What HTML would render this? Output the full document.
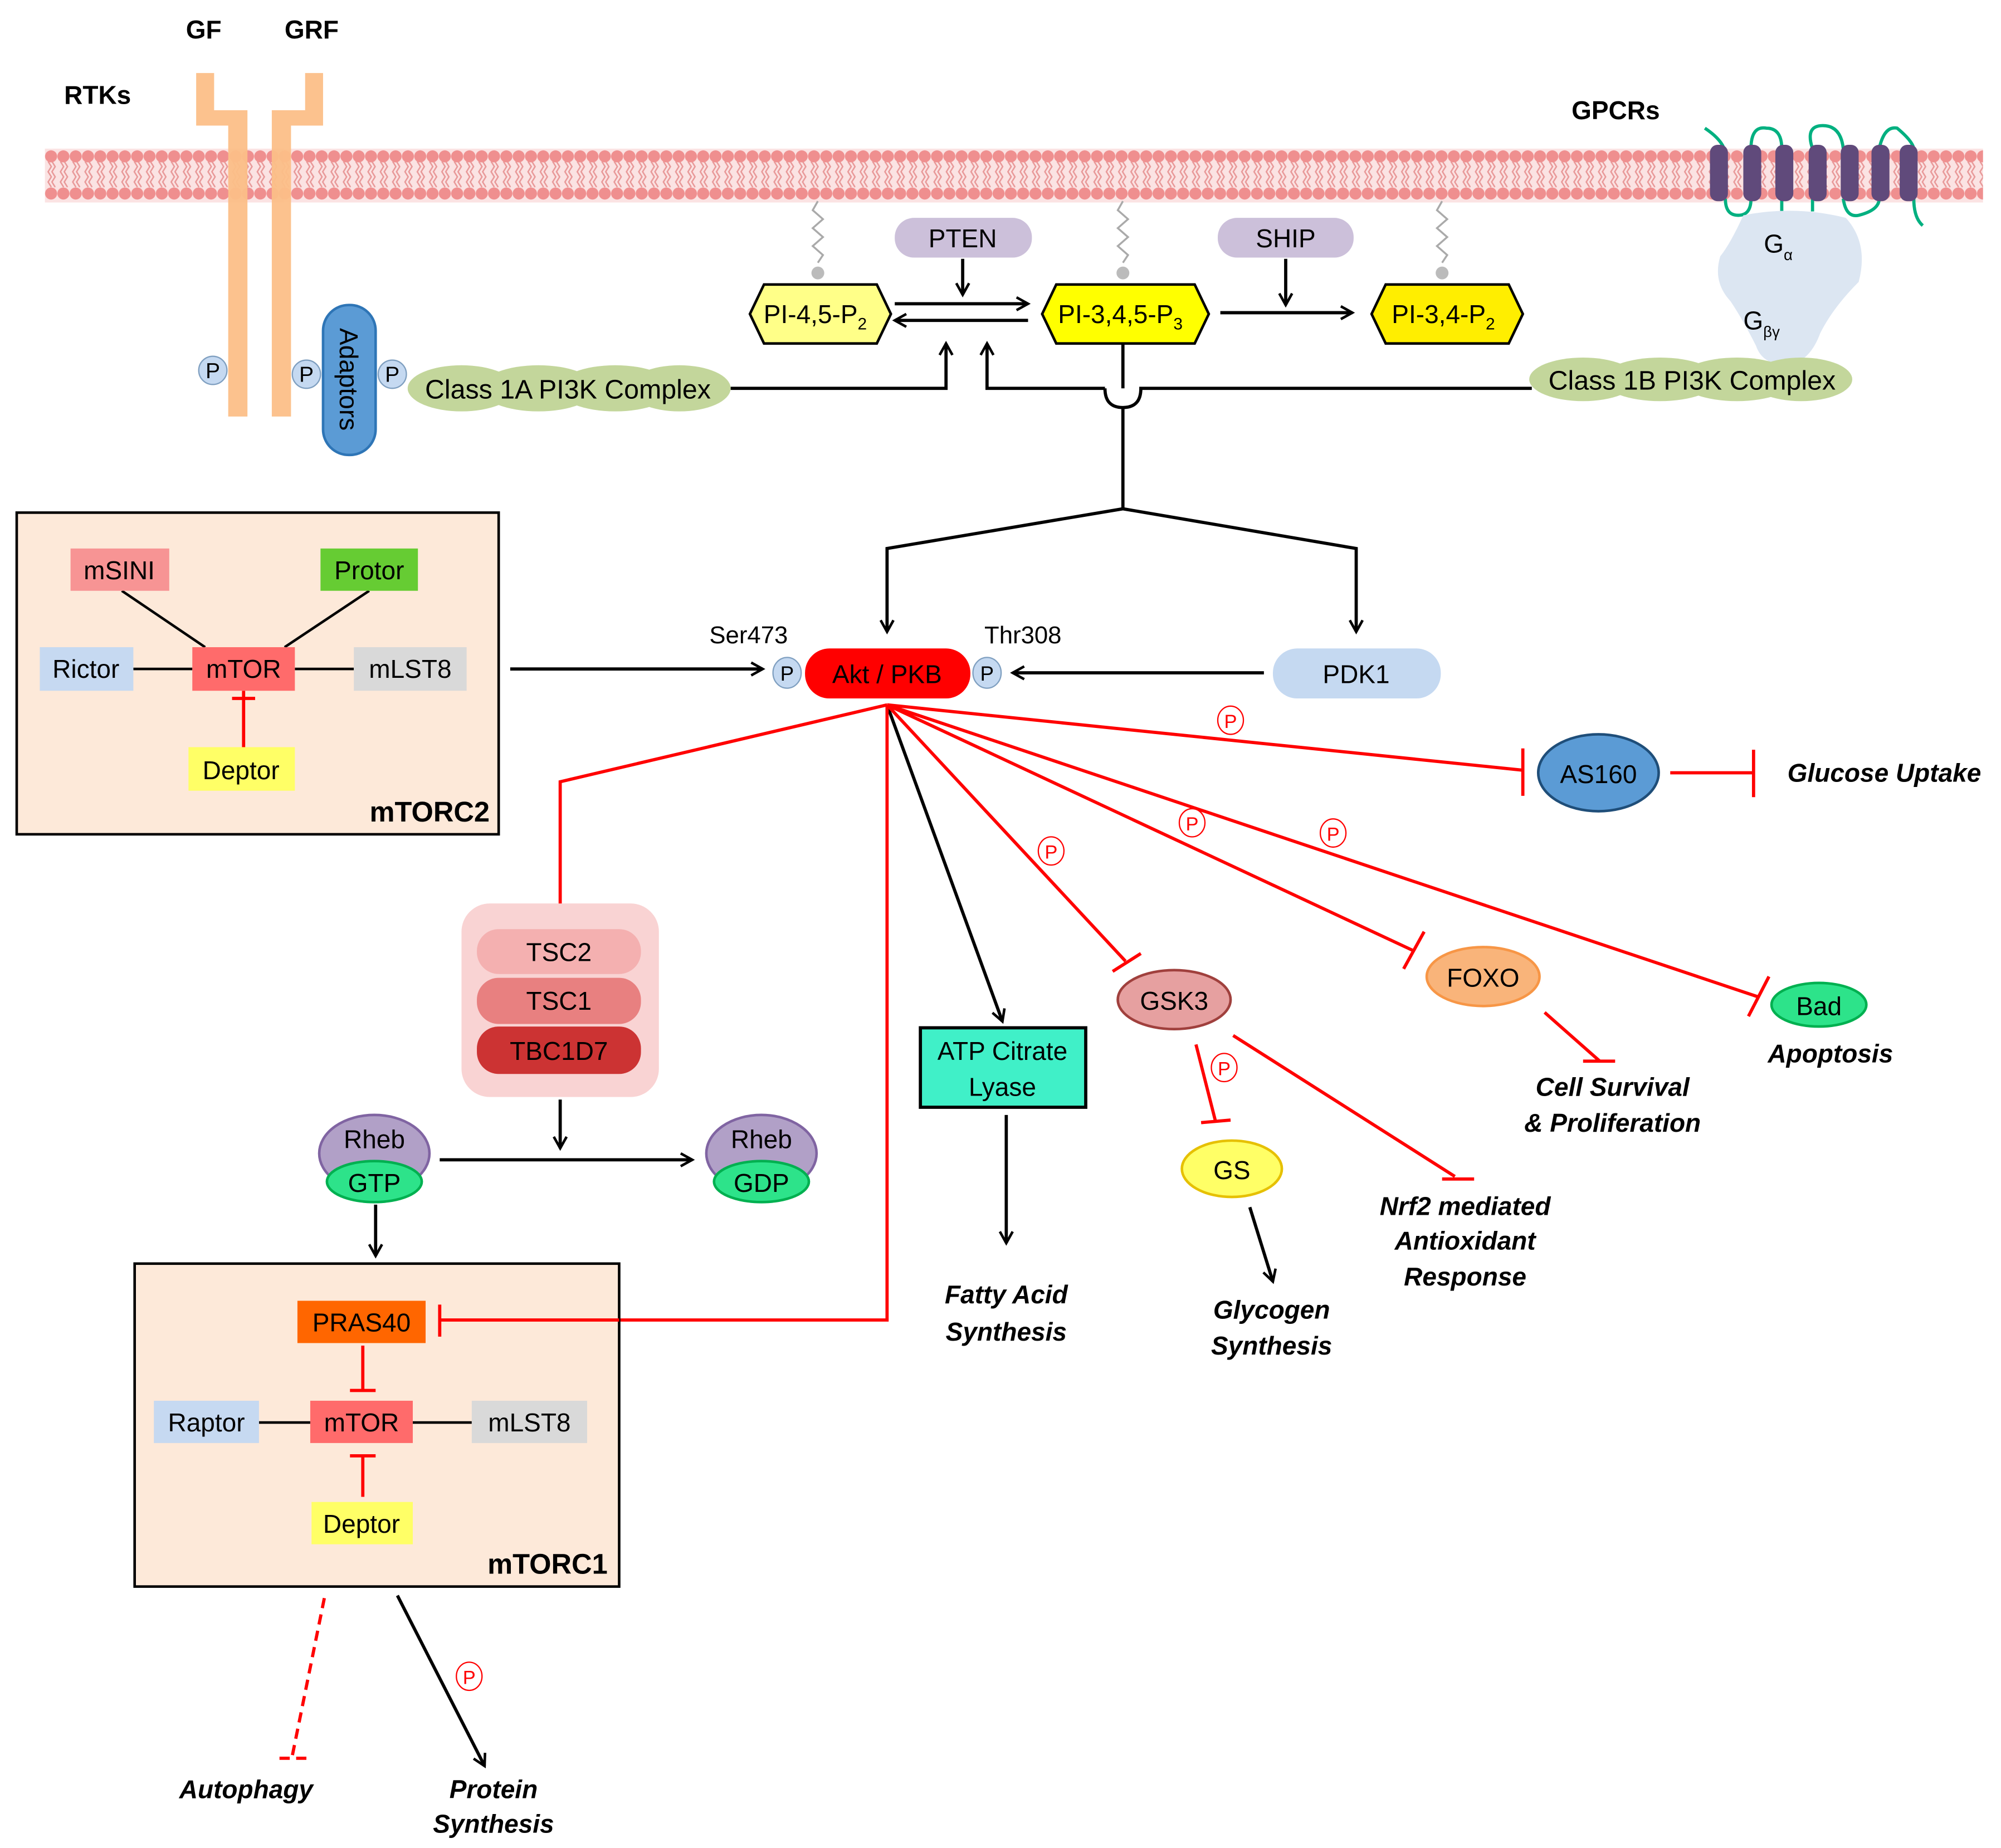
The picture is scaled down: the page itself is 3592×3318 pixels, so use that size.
<!DOCTYPE html>
<html><head><meta charset="utf-8"><style>
html,body{margin:0;padding:0;background:#fff;}
svg{display:block;}
text{font-family:"Liberation Sans",Arial,sans-serif;}
</style></head><body>
<svg width="3592" height="3318" viewBox="0 0 1561 1442" xmlns="http://www.w3.org/2000/svg">
<defs>
<pattern id="mem" x="35" y="116" width="9.6" height="42" patternUnits="userSpaceOnUse">
<path d="M2.5 10 L5 14 L2.5 18 L5 22 L2.5 26 L5 30 M5.5 10 L8 14 L5.5 18 L8 22 L5.5 26 L8 30" stroke="#e89898" stroke-width="1.1" fill="none"/>
<circle cx="4.8" cy="6" r="4.7" fill="#ef8f8f"/>
<circle cx="4.8" cy="35" r="4.7" fill="#ef8f8f"/>
</pattern>
<marker id="ah" markerWidth="12" markerHeight="12" refX="10" refY="6" orient="auto" markerUnits="userSpaceOnUse">
<path d="M1 1 L10 6 L1 11" fill="none" stroke="#000" stroke-width="2"/>
</marker>
</defs>
<rect width="1561" height="1442" fill="#fff"/>
<g font-weight="bold" font-size="20">
<text x="145" y="30">GF</text><text x="222" y="30">GRF</text>
<text x="50" y="81">RTKs</text><text x="1226" y="93">GPCRs</text>
</g>
<rect x="35" y="116" width="1512" height="42" fill="#fbe3e3"/>
<rect x="35" y="116" width="1512" height="42" fill="url(#mem)"/>
<g fill="#fcbf88" opacity="0.95">
<path d="M153 57 H167 V86 H193 V325 H178 V98 H153 Z"/>
<path d="M238 57 H252 V98 H227 V325 H212 V86 H238 Z"/>
</g>
<g fill="#c5d9f1" stroke="#7f9fc0" stroke-width="1">
<circle cx="166" cy="289" r="11"/><circle cx="239" cy="292" r="11"/><circle cx="306" cy="292" r="11"/>
</g>
<g font-size="17" text-anchor="middle"><text x="166" y="295">P</text><text x="239" y="298">P</text><text x="306" y="298">P</text></g>
<rect x="252" y="238" width="41" height="117" rx="20" fill="#5b9bd5" stroke="#2e75b6" stroke-width="2"/>
<text x="0" y="0" font-size="20" text-anchor="middle" transform="translate(265,296) rotate(90)">Adaptors</text>
<g fill="#c3d69b"><ellipse cx="360" cy="303" rx="42" ry="18"/><ellipse cx="420" cy="303" rx="45" ry="18"/><ellipse cx="480" cy="303" rx="45" ry="18"/><ellipse cx="530" cy="303" rx="40" ry="18"/></g>
<text x="443" y="311" font-size="21" text-anchor="middle">Class 1A PI3K Complex</text>
<g fill="none" stroke="#00b080" stroke-width="2.5">
<path d="M1330 100 Q1345 110 1346 120"/>
<path d="M1366 116 Q1366 98 1378 100 Q1390 100 1390 116"/>
<path d="M1414 116 Q1408 98 1422 98 Q1436 98 1438 116"/>
<path d="M1466 116 Q1470 98 1480 100 Q1492 110 1493 116"/>
<path d="M1346 155 Q1346 168 1356 168 Q1366 168 1366 155"/>
<path d="M1390 155 V165 M1414 155 V165"/>
<path d="M1438 155 Q1440 170 1450 168 Q1466 164 1466 155"/>
<path d="M1493 155 Q1493 170 1500 176"/>
</g>
<g fill="#604a7b">
<rect x="1334" y="113" width="14" height="44" rx="6"/><rect x="1360" y="113" width="14" height="44" rx="6"/><rect x="1385" y="113" width="14" height="44" rx="6"/><rect x="1411" y="113" width="14" height="44" rx="6"/><rect x="1436" y="113" width="14" height="44" rx="6"/><rect x="1460" y="113" width="14" height="44" rx="6"/><rect x="1482" y="113" width="14" height="44" rx="6"/>
</g>
<path d="M1360 168 Q1400 160 1440 170 Q1458 190 1450 220 Q1430 240 1420 260 Q1412 282 1395 285 Q1375 285 1370 270 Q1360 250 1350 235 Q1336 220 1342 200 Q1350 190 1360 168 Z" fill="#dce6f2"/>
<text x="1376" y="197" font-size="20">G<tspan font-size="12" dy="6">α</tspan></text>
<text x="1360" y="257" font-size="20">G<tspan font-size="12" dy="6">βγ</tspan></text>
<g fill="#c3d69b"><ellipse cx="1235" cy="296" rx="42" ry="17"/><ellipse cx="1295" cy="296" rx="45" ry="17"/><ellipse cx="1355" cy="296" rx="45" ry="17"/><ellipse cx="1405" cy="296" rx="40" ry="17"/></g>
<text x="1320" y="304" font-size="21" text-anchor="middle">Class 1B PI3K Complex</text>
<g stroke="#aaa" stroke-width="1.5" fill="none">
<path d="M638 157 l-4 7 l8 7 l-8 7 l8 7 l-8 7 l8 7 l-4 6"/>
<path d="M876 157 l-4 7 l8 7 l-8 7 l8 7 l-8 7 l8 7 l-4 6"/>
<path d="M1125 157 l-4 7 l8 7 l-8 7 l8 7 l-8 7 l8 7 l-4 6"/>
</g>
<g fill="#bbb"><circle cx="638" cy="213" r="5"/><circle cx="876" cy="213" r="5"/><circle cx="1125" cy="213" r="5"/></g>
<g stroke="#000" stroke-width="2">
<path d="M596 222 H684 L695 245 L684 268 H596 L585 245 Z" fill="#ffff88"/>
<path d="M824 222 H932 L943 245 L932 268 H824 L813 245 Z" fill="#ffff00"/>
<path d="M1081 222 H1177 L1188 245 L1177 268 H1081 L1070 245 Z" fill="#ffee00"/>
</g>
<g font-size="20" text-anchor="middle">
<text x="636" y="252">PI-4,5-P<tspan font-size="13" dy="5">2</tspan></text>
<text x="874" y="252">PI-3,4,5-P<tspan font-size="13" dy="5">3</tspan></text>
<text x="1126" y="252">PI-3,4-P<tspan font-size="13" dy="5">2</tspan></text>
</g>
<g fill="#ccc0da"><rect x="698" y="170" width="107" height="31" rx="15"/><rect x="950" y="170" width="106" height="31" rx="15"/></g>
<g font-size="20" text-anchor="middle"><text x="751" y="193">PTEN</text><text x="1003" y="193">SHIP</text></g>
<g stroke="#000" stroke-width="2.5" fill="none" marker-end="url(#ah)">
<path d="M751 202 V230"/>
<path d="M698 237 H802"/>
<path d="M802 250 H698"/>
<path d="M1003 202 V238"/>
<path d="M952 244 H1055"/>
<path d="M570 303 H738 V268"/>
<path d="M862 303 H770 V268"/>
<path d="M876 397 L692 428 V493"/>
<path d="M876 397 L1058 428 V493"/>
<path d="M398 522 H595"/>
<path d="M986 525 H790"/>
<path d="M692 550 L782 797"/>
<path d="M785 870 V970"/>
<path d="M437 858 V896"/>
<path d="M343 905 H540"/>
<path d="M293 940 V980"/>
<path d="M975 942 L993 1000"/>
<path d="M310 1245 L378 1378"/>
</g>
<path d="M876 268 V303 M862 303 Q862 318 876 318 Q890 318 890 303 H1195 M876 318 V397" stroke="#000" stroke-width="2.5" fill="none"/>
<rect x="13" y="400" width="376" height="251" fill="#fde9d9" stroke="#000" stroke-width="2"/>
<g stroke="#000" stroke-width="2"><path d="M95 461 L160 505 M288 461 L222 505 M104 522 H150 M230 522 H276"/></g>
<path d="M190 539 V583 M181 545 H199" stroke="#f00" stroke-width="2.5"/>
<rect x="55" y="428" width="77" height="33" fill="#f79494"/>
<rect x="250" y="428" width="76" height="33" fill="#66cc33"/>
<rect x="31" y="505" width="73" height="34" fill="#c6d9f1"/>
<rect x="150" y="505" width="80" height="34" fill="#ff6b6b"/>
<rect x="276" y="505" width="88" height="34" fill="#d9d9d9"/>
<rect x="147" y="583" width="83" height="34" fill="#ffff66"/>
<g font-size="20" text-anchor="middle">
<text x="93" y="452">mSINI</text><text x="288" y="452">Protor</text><text x="67" y="529">Rictor</text><text x="190" y="529">mTOR</text><text x="320" y="529">mLST8</text><text x="188" y="608">Deptor</text>
</g>
<text x="382" y="641" font-size="22" font-weight="bold" text-anchor="end">mTORC2</text>
<text x="584" y="502" font-size="19" text-anchor="middle">Ser473</text>
<text x="798" y="502" font-size="19" text-anchor="middle">Thr308</text>
<rect x="628" y="506" width="129" height="39" rx="19" fill="#ff0000"/>
<text x="692" y="533" font-size="20" text-anchor="middle">Akt / PKB</text>
<g fill="#c5d9f1" stroke="#7f9fc0"><ellipse cx="614" cy="525" rx="11" ry="12"/><ellipse cx="770" cy="525" rx="11" ry="12"/></g>
<g font-size="16" text-anchor="middle"><text x="614" y="531">P</text><text x="770" y="531">P</text></g>
<rect x="993" y="506" width="131" height="39" rx="19" fill="#c5d9f1"/>
<text x="1058" y="533" font-size="20" text-anchor="middle">PDK1</text>
<g stroke="#f00" stroke-width="2.5" fill="none">
<path d="M692 550 L1188 601 M1188 584 V621"/>
<path d="M1303 603 H1367 M1368 585 V622"/>
<path d="M692 550 L1103 742 M1095 756 L1111 727"/>
<path d="M692 550 L1372 778 M1364 793 L1380 762"/>
<path d="M692 550 L878 750 M868 758 L890 744"/>
<path d="M692 550 L437 610 V715 M427 715 H447"/>
<path d="M692 550 V1030 H483"/>
<path d="M933 815 L948 874 M937 876 L960 874"/>
<path d="M962 808 L1135 918 M1125 920 L1150 920"/>
<path d="M1205 790 L1248 828 M1235 828 L1260 828"/>
<path d="M253 1247 L228 1370 M218 1372 L243 1372" stroke-dasharray="8,5"/>
</g>
<g fill="#fff" stroke="#f00" stroke-width="1"><ellipse cx="960" cy="562" rx="10" ry="11"/><ellipse cx="820" cy="664" rx="10" ry="11"/><ellipse cx="930" cy="642" rx="10" ry="11"/><ellipse cx="1040" cy="650" rx="10" ry="11"/><ellipse cx="955" cy="833" rx="10" ry="11"/><ellipse cx="366" cy="1308" rx="10" ry="11"/></g>
<g font-size="15" fill="#f00" text-anchor="middle"><text x="960" y="568">P</text><text x="820" y="670">P</text><text x="930" y="648">P</text><text x="1040" y="656">P</text><text x="955" y="839">P</text><text x="366" y="1314">P</text></g>
<ellipse cx="1247" cy="603" rx="47" ry="30" fill="#5b9bd5" stroke="#1f4e79" stroke-width="2"/>
<text x="1247" y="611" font-size="20" text-anchor="middle">AS160</text>
<ellipse cx="1157" cy="762" rx="44" ry="23" fill="#f9b47a" stroke="#f79646" stroke-width="2"/>
<text x="1157" y="770" font-size="20" text-anchor="middle">FOXO</text>
<ellipse cx="1419" cy="784" rx="37" ry="17" fill="#2de38a" stroke="#00b050" stroke-width="2"/>
<text x="1419" y="792" font-size="20" text-anchor="middle">Bad</text>
<ellipse cx="916" cy="780" rx="44" ry="23" fill="#e6a0a0" stroke="#a0403d" stroke-width="2"/>
<text x="916" y="788" font-size="20" text-anchor="middle">GSK3</text>
<ellipse cx="961" cy="912" rx="39" ry="22" fill="#ffff66" stroke="#e6c000" stroke-width="2"/>
<text x="961" y="920" font-size="20" text-anchor="middle">GS</text>
<rect x="718" y="802" width="129" height="62" fill="#40f0c8" stroke="#000" stroke-width="2.5"/>
<g font-size="20" text-anchor="middle"><text x="782" y="827">ATP Citrate</text><text x="782" y="855">Lyase</text></g>
<g font-size="20" font-weight="bold" font-style="italic" text-anchor="middle">
<text x="1470" y="610">Glucose Uptake</text>
<text x="1428" y="829">Apoptosis</text>
<text x="1258" y="855">Cell Survival</text><text x="1258" y="883">&amp; Proliferation</text>
<text x="1143" y="948">Nrf2 mediated</text><text x="1143" y="975">Antioxidant</text><text x="1143" y="1003">Response</text>
<text x="992" y="1029">Glycogen</text><text x="992" y="1057">Synthesis</text>
<text x="785" y="1017">Fatty Acid</text><text x="785" y="1046">Synthesis</text>
<text x="192" y="1403">Autophagy</text>
<text x="385" y="1403">Protein</text><text x="385" y="1430">Synthesis</text>
</g>
<rect x="360" y="705" width="154" height="151" rx="22" fill="#f9d3d3"/>
<rect x="372" y="725" width="128" height="35" rx="17" fill="#f4b0b0"/>
<rect x="372" y="763" width="128" height="36" rx="17" fill="#e88080"/>
<rect x="372" y="801" width="128" height="37" rx="17" fill="#cc3333"/>
<g font-size="20" text-anchor="middle"><text x="436" y="750">TSC2</text><text x="436" y="788">TSC1</text><text x="436" y="827">TBC1D7</text></g>
<ellipse cx="292" cy="900" rx="43" ry="30" fill="#b1a0c7" stroke="#8064a2" stroke-width="2"/>
<ellipse cx="292" cy="922" rx="37" ry="16" fill="#2de38a" stroke="#00b050" stroke-width="2"/>
<ellipse cx="594" cy="900" rx="43" ry="30" fill="#b1a0c7" stroke="#8064a2" stroke-width="2"/>
<ellipse cx="594" cy="922" rx="37" ry="16" fill="#2de38a" stroke="#00b050" stroke-width="2"/>
<g font-size="20" text-anchor="middle"><text x="292" y="896">Rheb</text><text x="292" y="930">GTP</text><text x="594" y="896">Rheb</text><text x="594" y="930">GDP</text></g>
<rect x="105" y="986" width="378" height="252" fill="#fde9d9" stroke="#000" stroke-width="2"/>
<path d="M483 1030 H343 M343 1018 V1043 M283 1050 V1085 M273 1085 H293 M283 1168 V1136 M273 1136 H293" stroke="#f00" stroke-width="2.5" fill="none"/>
<g stroke="#000" stroke-width="2"><path d="M202 1110 H242 M322 1110 H368"/></g>
<rect x="232" y="1015" width="100" height="33" fill="#ff6600"/>
<rect x="120" y="1093" width="82" height="33" fill="#c6d9f1"/>
<rect x="242" y="1093" width="80" height="33" fill="#ff6b6b"/>
<rect x="368" y="1093" width="90" height="33" fill="#d9d9d9"/>
<rect x="243" y="1172" width="79" height="33" fill="#ffff66"/>
<g font-size="20" text-anchor="middle"><text x="282" y="1039">PRAS40</text><text x="161" y="1117">Raptor</text><text x="282" y="1117">mTOR</text><text x="413" y="1117">mLST8</text><text x="282" y="1196">Deptor</text></g>
<text x="474" y="1228" font-size="22" font-weight="bold" text-anchor="end">mTORC1</text>
</svg>
</body></html>
